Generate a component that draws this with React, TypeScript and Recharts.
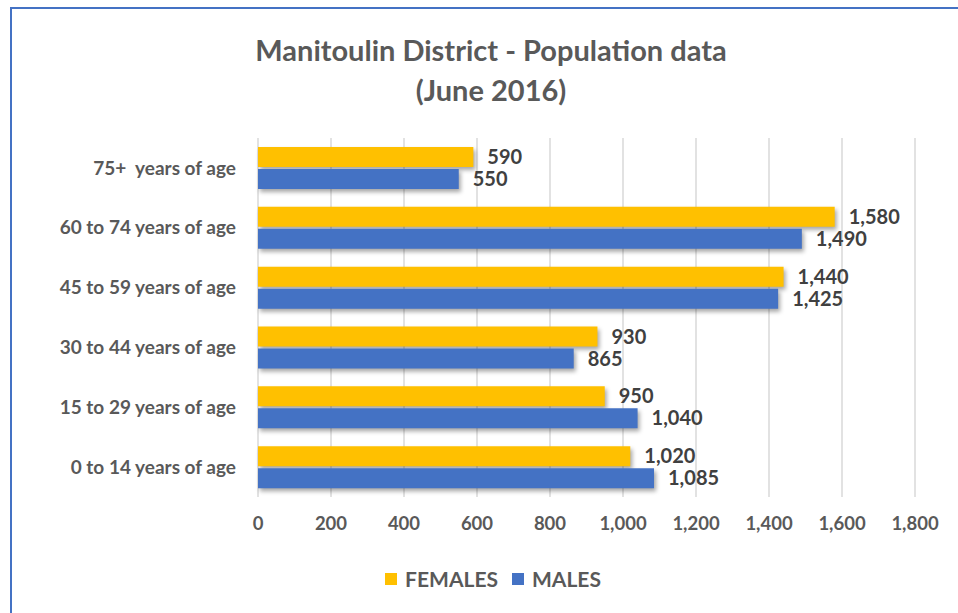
import { Bar, BarChart, CartesianGrid, LabelList, XAxis, YAxis } from 'recharts';

const ageGroups = [
  '75+\u00A0 years of age',
  '60 to 74 years of age',
  '45 to 59 years of age',
  '30 to 44 years of age',
  '15 to 29 years of age',
  '0 to 14 years of age',
];
const females = [590, 1580, 1440, 930, 950, 1020];
const males = [550, 1490, 1425, 865, 1040, 1085];
const xTicks = [0, 200, 400, 600, 800, 1000, 1200, 1400, 1600, 1800];

const FEMALE_COLOR = '#FFC000';
const MALE_COLOR = '#4472C4';
const FONT = 'Lato, "Open Sans", sans-serif';

const data = ageGroups.map((group, i) => ({
  group,
  females: females[i],
  males: males[i],
}));

const fmt = (v: number) => v.toLocaleString('en-US');

const legendItems = [
  { name: 'FEMALES', color: FEMALE_COLOR },
  { name: 'MALES', color: MALE_COLOR },
];

export default function App() {
  const labelStyle = { fill: '#404040', fontSize: 20, fontWeight: 700, fontFamily: FONT };
  return (
    <div
      style={{
        position: 'absolute',
        left: 0,
        top: 0,
        width: 958,
        height: 613,
        overflow: 'hidden',
        background: '#fff',
      }}
    >
      <style>{`.shadow-bar .recharts-rectangle { filter: drop-shadow(2px 3px 2px rgba(0,0,0,0.35)); }`}</style>
      <div
        style={{
          position: 'absolute',
          left: 10,
          top: 7,
          width: 1000,
          height: 700,
          border: '2px solid #4472C4',
        }}
      />
      <div
        style={{
          position: 'absolute',
          left: 0,
          width: 982,
          top: 30,
          textAlign: 'center',
          fontFamily: FONT,
          fontWeight: 700,
          fontSize: 29,
          lineHeight: '40px',
          color: '#595959',
        }}
      >
        Manitoulin District - Population data
        <br />
        (June 2016)
      </div>
      <div style={{ position: 'absolute', left: 0, top: 0 }}>
        <BarChart
          width={958}
          height={613}
          data={data}
          layout="vertical"
          margin={{ top: 138, right: 43, bottom: 56, left: 0 }}
          barGap={2}
          barSize={20}
        >
          <CartesianGrid horizontal={false} stroke="#d9d9d9" strokeWidth={1.5} />
          <XAxis
            type="number"
            domain={[0, 1800]}
            ticks={xTicks}
            tickFormatter={fmt}
            axisLine={false}
            tickLine={false}
            tickSize={0}
            tickMargin={20}
            height={60}
            tick={{ fill: '#595959', fontSize: 18.5, fontWeight: 700, fontFamily: FONT }}
          />
          <YAxis
            type="category"
            dataKey="group"
            width={258}
            axisLine={false}
            tickLine={false}
            tickSize={0}
            tickMargin={22}
            tick={{ fill: '#595959', fontSize: 19, fontWeight: 700, fontFamily: FONT }}
          />
          <Bar
            dataKey="females"
            name="FEMALES"
            fill={FEMALE_COLOR}
            className="shadow-bar"
            isAnimationActive={false}
          >
            <LabelList
              dataKey="females"
              position="right"
              offset={14}
              formatter={(v: any) => fmt(Number(v))}
              style={labelStyle}
            />
          </Bar>
          <Bar
            dataKey="males"
            name="MALES"
            fill={MALE_COLOR}
            className="shadow-bar"
            isAnimationActive={false}
          >
            <LabelList
              dataKey="males"
              position="right"
              offset={14}
              formatter={(v: any) => fmt(Number(v))}
              style={labelStyle}
            />
          </Bar>
        </BarChart>
      </div>
      <div
        style={{
          position: 'absolute',
          left: 0,
          width: 986,
          top: 566,
          display: 'flex',
          justifyContent: 'center',
          gap: 14,
          fontFamily: FONT,
        }}
      >
        {legendItems.map((it) => (
          <div key={it.name} style={{ display: 'flex', alignItems: 'center', gap: 8 }}>
            <span style={{ width: 12, height: 12, background: it.color, display: 'inline-block' }} />
            <span style={{ fontSize: 21, fontWeight: 700, color: '#595959' }}>{it.name}</span>
          </div>
        ))}
      </div>
    </div>
  );
}
